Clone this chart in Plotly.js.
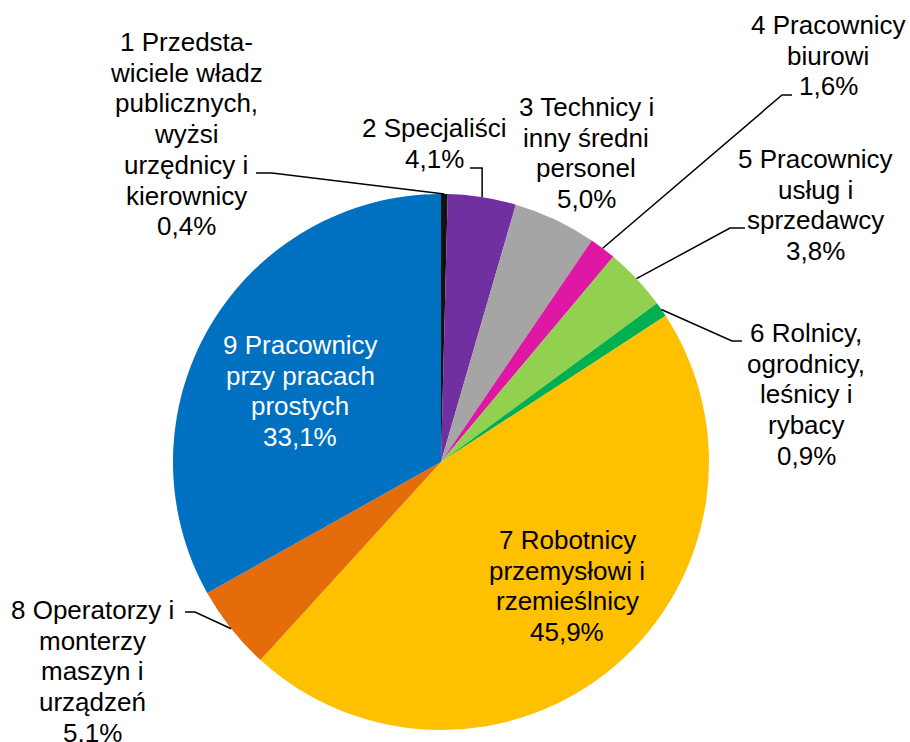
<!DOCTYPE html>
<html>
<head>
<meta charset="utf-8">
<script src="https://cdn.plot.ly/plotly-3.0.1.min.js"></script>
<style>html,body{margin:0;padding:0;background:#fff;}#chart{width:910px;height:742px;}</style>
</head>
<body>
<div id="chart"></div>
<script>
// ---- data ----
const categories = [
  '1 Przedstawiciele władz publicznych, wyżsi urzędnicy i kierownicy',
  '2 Specjaliści',
  '3 Technicy i inny średni personel',
  '4 Pracownicy biurowi',
  '5 Pracownicy usług i sprzedawcy',
  '6 Rolnicy, ogrodnicy, leśnicy i rybacy',
  '7 Robotnicy przemysłowi i rzemieślnicy',
  '8 Operatorzy i monterzy maszyn i urządzeń',
  '9 Pracownicy przy pracach prostych'
];
const labelLines = [
  ['1 Przedsta-', 'wiciele władz', 'publicznych,', 'wyżsi', 'urzędnicy i', 'kierownicy'],
  ['2 Specjaliści'],
  ['3 Technicy i', 'inny średni', 'personel'],
  ['4 Pracownicy', 'biurowi'],
  ['5 Pracownicy', 'usług i', 'sprzedawcy'],
  ['6 Rolnicy,', 'ogrodnicy,', 'leśnicy i', 'rybacy'],
  ['7 Robotnicy', 'przemysłowi i', 'rzemieślnicy'],
  ['8 Operatorzy i', 'monterzy', 'maszyn i', 'urządzeń'],
  ['9 Pracownicy', 'przy pracach', 'prostych']
];
const values = [0.4, 4.1, 5.0, 1.6, 3.8, 0.9, 45.9, 5.1, 33.1];
const colors = ['#111111', '#7030A0', '#A5A5A5', '#DE18A4', '#92D050', '#00B050', '#FFC000', '#E46C0A', '#0070C0'];

// ---- layout (pixel positions) ----
const W = 910, H = 742;
const CX = 441, CY = 462, R = 268;
const labelPos = [
  {x: 186, y: 42, color: '#000'},
  {x: 434, y: 128, color: '#000'},
  {x: 586, y: 107, color: '#000'},
  {x: 828, y: 25, color: '#000'},
  {x: 815, y: 159, color: '#000'},
  {x: 806, y: 333, color: '#000'},
  {x: 567, y: 540, color: '#000'},
  {x: 92, y: 610, color: '#000'},
  {x: 300, y: 345, color: '#fff'}
];
const LH = 30.7;
// leader line waypoints near text (pixel), edge point computed from data
const leaders = [
  {i: 0, pre: [[256, 173], [272, 173]], post: []},
  {i: 1, pre: [[470, 168]], elbowX: true, post: []},
  {i: 3, pre: [[792, 95], [782, 95]], post: []},
  {i: 4, pre: [[745, 228], [730, 228]], post: []},
  {i: 5, pre: [[742, 341], [732, 341]], post: []},
  {i: 7, pre: [[185, 612], [195, 612]], post: []}
];

const px = x => x / W;
const py = y => 1 - y / H;

const total = values.reduce((a, b) => a + b, 0);
function edgePoint(i) {
  let cum = 0;
  for (let k = 0; k < i; k++) cum += values[k];
  const mid = (cum + values[i] / 2) / total * 2 * Math.PI;
  return [CX + R * Math.sin(mid), CY - R * Math.cos(mid)];
}
const pct = v => v.toFixed(1).replace('.', ',') + '%';

const annotations = [];
labelLines.forEach((lines, i) => {
  const all = lines.concat([pct(values[i])]);
  all.forEach((t, j) => {
    annotations.push({
      text: t, showarrow: false,
      xref: 'paper', yref: 'paper',
      x: px(labelPos[i].x), y: py(labelPos[i].y + j * LH),
      xanchor: 'center', yanchor: 'middle',
      font: {family: 'Liberation Sans, Arial, sans-serif', size: 26, color: labelPos[i].color}
    });
  });
});

const shapes = leaders.map(l => {
  const e = edgePoint(l.i);
  let pts = l.pre.slice();
  if (l.elbowX) pts.push([e[0], l.pre[0][1]]);
  pts.push(e);
  const d = pts.map((p, k) => (k ? 'L' : 'M') + px(p[0]).toFixed(5) + ',' + py(p[1]).toFixed(5)).join(' ');
  return {type: 'path', xref: 'paper', yref: 'paper', path: d, line: {color: '#000', width: 1.5}};
});

const trace = {
  type: 'pie',
  labels: categories,
  values: values,
  sort: false,
  direction: 'clockwise',
  rotation: 0,
  marker: {colors: colors, line: {width: 0}},
  textinfo: 'none',
  hoverinfo: 'none',
  showlegend: false,
  domain: {x: [(CX - R) / W, (CX + R) / W], y: [py(CY + R), py(CY - R)]}
};

Plotly.newPlot('chart', [trace], {
  width: W, height: H,
  margin: {l: 0, r: 0, t: 0, b: 0},
  paper_bgcolor: '#fff',
  showlegend: false,
  annotations: annotations,
  shapes: shapes
}, {staticPlot: true});
</script>
</body>
</html>
